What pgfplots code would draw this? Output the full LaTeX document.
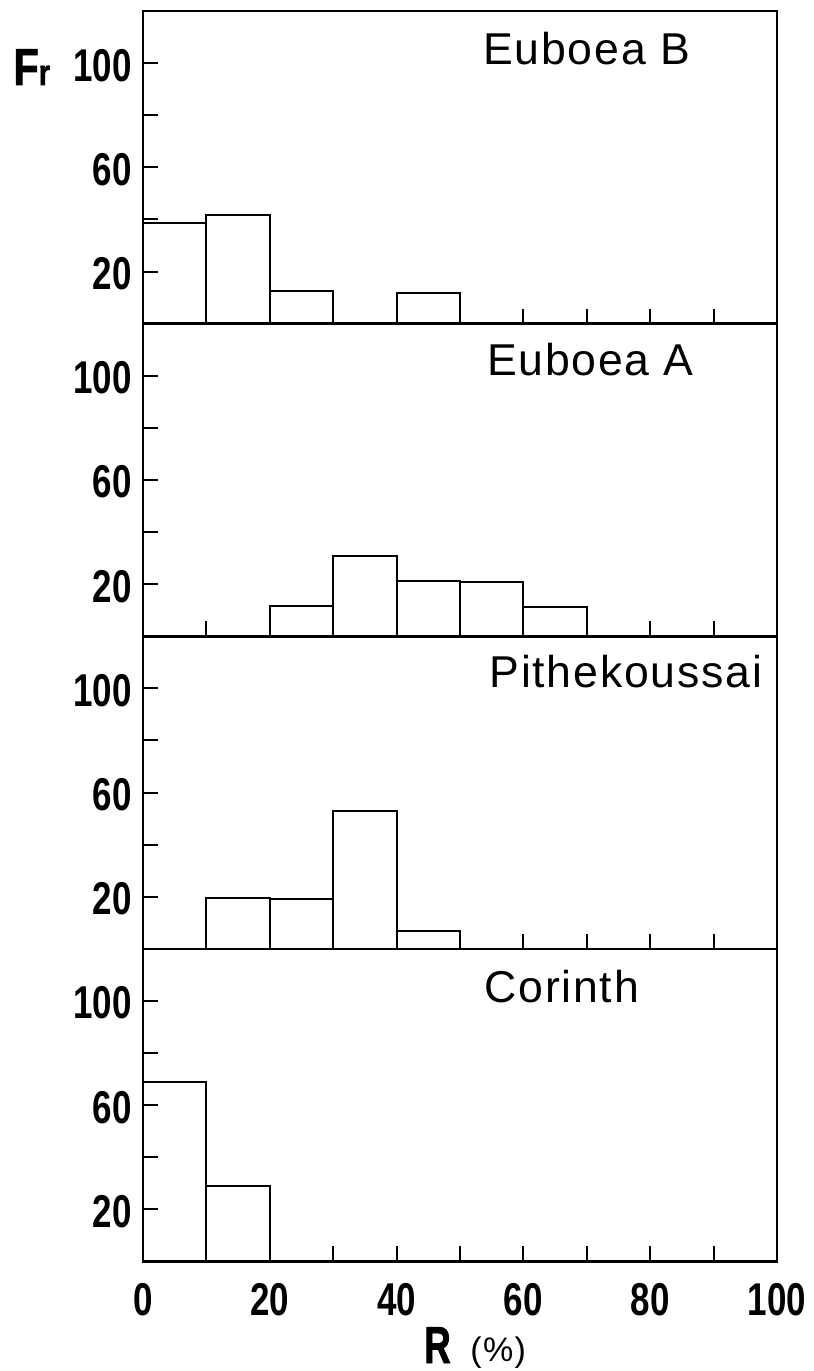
\documentclass[border=0pt]{standalone}
\usepackage{fontspec}
\setmainfont{Liberation Sans}
\usepackage{pgfplots}
\pgfplotsset{compat=1.18}
\newfontfamily\tickfont{Liberation Sans}[UprightFont={* Bold},FakeStretch=0.76]
\newfontfamily\Rfont{Liberation Sans}[UprightFont={* Bold},FakeStretch=0.7,FakeBold=1.5]
\newfontfamily\Ffont{Liberation Sans}[UprightFont={* Bold},FakeStretch=0.8,FakeBold=1.5]
\newfontfamily\titlefont{Liberation Sans}[LetterSpace=4]
\pgfplotsset{
  panel/.style={
    scale only axis, width=317pt, height=156.3pt,
    anchor=south west,
    xmin=0, xmax=100, ymin=0, ymax=120,
    axis line style={line width=1.3pt},
    axis on top,
    tick align=inside,
    xtick pos=lower, ytick pos=left,
    xtick={10,20,...,90}, xticklabels={},
    ytick={20,40,60,80,100}, yticklabels={20,,60,,100},
    major tick length=7.5pt,
    every tick/.style={black, line width=1pt},
    yticklabel style={font=\tickfont\fontsize{23}{23}\selectfont, inner sep=0pt, xshift=-5.5pt, yshift=-1pt},
    xticklabel style={font=\tickfont\fontsize{23}{23}\selectfont, inner sep=0pt, yshift=-10.5pt},
    clip=false,
  },
  bars/.style={ybar interval, draw=black, fill=none, line width=1pt},
}
\tikzset{ttl/.style={anchor=base west, inner sep=0pt, font=\titlefont\fontsize{22.3}{22}\selectfont}}
\begin{document}
\begin{tikzpicture}
\path[use as bounding box] (0,0) rectangle (407pt,685.5pt);
% Euboea B
\begin{axis}[panel, at={(71.5pt,523.65pt)}]
\addplot[bars] coordinates {(0,38.7) (10,41.6) (20,12.4) (30,0) (40,11.8) (50,0)};
\node[ttl] at (axis cs:53.6,99.5) {Euboea B};
\end{axis}
% Euboea A
\begin{axis}[panel, at={(71.5pt,367.35pt)}]
\addplot[bars] coordinates {(20,11.8) (30,30.8) (40,21.3) (50,20.9) (60,11.4) (70,0)};
\node[ttl] at (axis cs:54.2,100) {Euboea A};
\end{axis}
% Pithekoussai
\begin{axis}[panel, at={(71.5pt,211.05pt)}]
\addplot[bars] coordinates {(10,19.4) (20,19.1) (30,52.9) (40,6.9) (50,0)};
\node[ttl] at (axis cs:54.6,100.2) {Pithekoussai};
\end{axis}
% Corinth
\begin{axis}[panel, at={(71.5pt,54.75pt)},
  xtick={0,10,...,100}, xticklabels={0,,20,,40,,60,,80,,100}]
\addplot[bars] coordinates {(0,68.9) (10,28.9) (20,0)};
\node[ttl] at (axis cs:53.8,99.6) {Corinth};
\end{axis}
\node[anchor=base west, inner sep=0pt] at (6.5pt,643pt)
  {\Ffont\fontsize{26}{26}\selectfont F{\fontsize{18}{18}\selectfont r}};
\node[anchor=base west, inner sep=0pt] at (212pt,4pt)
  {\Rfont\fontsize{26}{26}\selectfont R};
\node[anchor=base west, inner sep=0pt] at (235pt,5pt)
  {\titlefont\fontsize{17}{17}\selectfont (\%)};
\end{tikzpicture}
\end{document}
